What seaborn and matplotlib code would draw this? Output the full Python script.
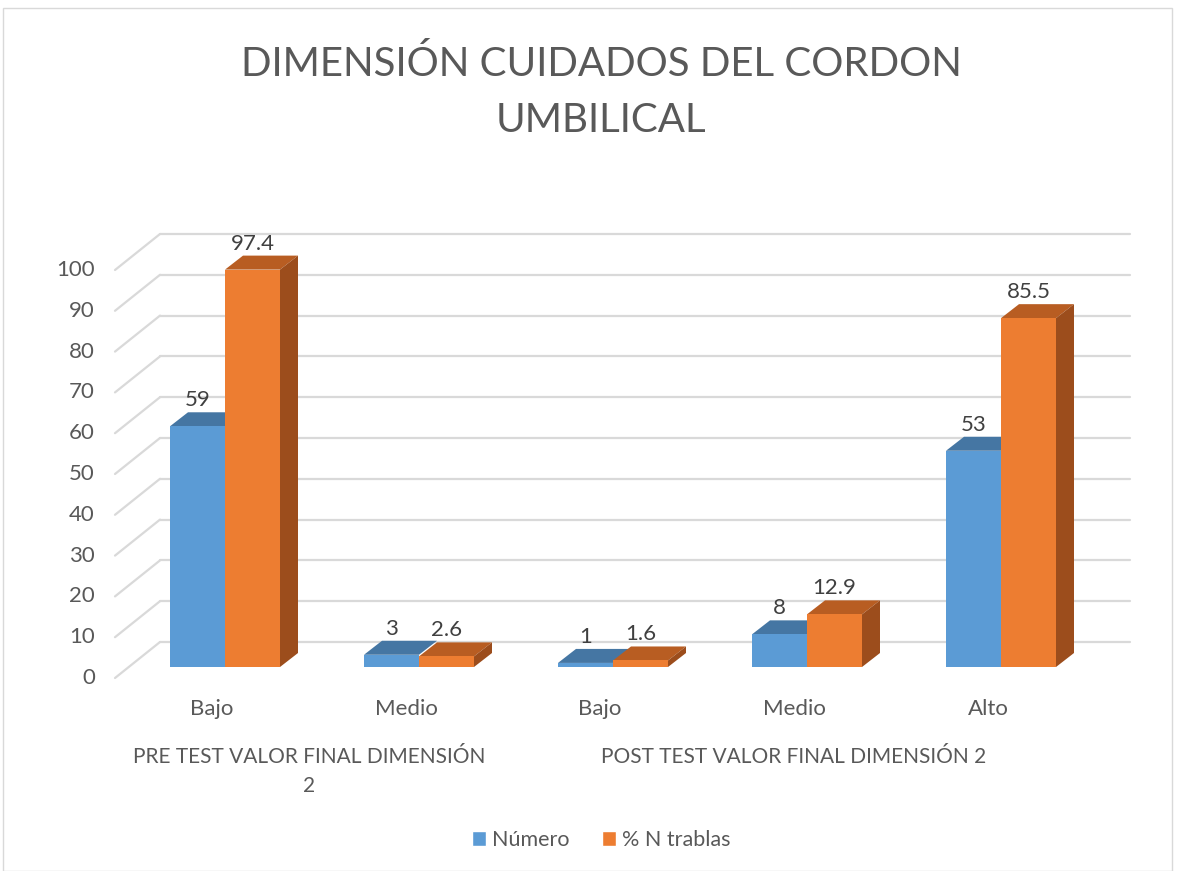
import matplotlib
matplotlib.use("Agg")
from matplotlib import pyplot as plt
from matplotlib.patches import Polygon, Patch, Rectangle
from matplotlib.transforms import offset_copy
import pandas as pd
import seaborn as sns

# data
categories = ["Bajo", "Medio", "Bajo", "Medio", "Alto"]
groups = ["PRE TEST VALOR FINAL DIMENSIÓN\n2", "POST TEST VALOR FINAL DIMENSIÓN 2"]
group_members = [[0, 1], [2, 3, 4]]
numero = [59, 3, 1, 8, 53]
pct_n_trablas = [97.4, 2.6, 1.6, 12.9, 85.5]
series = ["Número", "% N trablas"]
yticks = list(range(0, 101, 10))

BLUE, ORANGE = "#5B9BD5", "#ED7D31"
BLUE_TOP, ORANGE_TOP, ORANGE_SIDE = "#4576A3", "#B85D22", "#9C4D1C"
GRID = "#D9D9D9"
TEXT = "#595959"

sns.set_style("white")
plt.rcParams["font.family"] = ["Lato", "DejaVu Sans"]

keys = [f"{i}-{c}" for i, c in enumerate(categories)]
df = pd.DataFrame({
    "key": keys * 2,
    "valor": numero + pct_n_trablas,
    "serie": [series[0]] * len(keys) + [series[1]] * len(keys),
})

W, H = 1179, 871
fig = plt.figure(figsize=(W / 100, H / 100), dpi=100)
ax = fig.add_axes([128 / W, 204 / H, 970 / W, 408 / H])
sns.barplot(data=df, x="key", y="valor", hue="serie", order=keys,
            hue_order=series, palette=[BLUE, ORANGE], saturation=1,
            width=0.567, legend=False, ax=ax, zorder=3,
            linewidth=0, edgecolor="none")
ax.set_xlim(-0.5, len(keys) - 0.5)
ax.set_ylim(0, 100)
ax.set_axis_off()

# pixel -> data scale
pxx = ax.bbox.width / len(keys)
pxy = ax.bbox.height / 100.0

back = offset_copy(ax.transData, fig=fig, x=32, y=25, units="dots")
front_dx, front_dy = -13 / pxx, -11 / pxy
back_dx, back_dy = 32 / pxx, 25 / pxy

# back wall gridlines + diagonal side-wall lines, with tick labels on front edge
for v in yticks:
    ax.plot([-0.5, len(keys) - 0.5], [v, v], transform=back, color=GRID,
            lw=1.6, clip_on=False, zorder=0)
    ax.plot([-0.5 + front_dx, -0.5 + back_dx], [v + front_dy, v + back_dy],
            color=GRID, lw=1.6, clip_on=False, zorder=0)
    ax.text(-0.5 + front_dx - 20 / pxx, v + front_dy, str(v), ha="right",
            va="center", fontsize=16, color=TEXT)

# 3d faces
ddx, ddy = 18 / pxx, 14 / pxy
for cont, top_c, side_c in zip(ax.containers, [BLUE_TOP, ORANGE_TOP], [None, ORANGE_SIDE]):
    for bar in cont:
        x0, w, h = bar.get_x(), bar.get_width(), bar.get_height()
        x1 = x0 + w
        top = Polygon([(x0, h), (x1, h), (x1 + ddx, h + ddy), (x0 + ddx, h + ddy)],
                      closed=True, fc=top_c, ec="none", clip_on=False, zorder=2)
        ax.add_patch(top)
        if side_c:
            side = Polygon([(x1, 0), (x1, h), (x1 + ddx, h + ddy), (x1 + ddx, ddy)],
                           closed=True, fc=side_c, ec="none", clip_on=False, zorder=2)
            ax.add_patch(side)
        ax.text(x0 + w / 2, h + ddy + 2 / pxy, f"{h:g}", ha="center", va="bottom",
                fontsize=16, color="#404040", zorder=5)

# category labels
for i, c in enumerate(categories):
    ax.text(i + front_dx, -42 / pxy, c, ha="center", va="center",
            fontsize=16, color=TEXT)
for g, members in zip(groups, group_members):
    xc = (members[0] + members[-1]) / 2 + front_dx
    ax.text(xc, -80 / pxy, g, ha="center", va="top", fontsize=15,
            color=TEXT, linespacing=1.55)

fig.text(0.51, 1 - 92 / H, "DIMENSIÓN CUIDADOS DEL CORDON\nUMBILICAL",
         ha="center", va="center", fontsize=29, color=TEXT, linespacing=1.65)

handles = [Patch(fc=BLUE), Patch(fc=ORANGE)]
leg = fig.legend(handles, series, loc="center", bbox_to_anchor=(0.51, 1 - 840 / H),
                 ncol=2, frameon=False, fontsize=15.5, handlelength=0.65,
                 handleheight=0.65, handletextpad=0.3, columnspacing=1.5)
for t in leg.get_texts():
    t.set_color(TEXT)

fig.patches.append(Rectangle((3 / W, 0), 1169 / W, 1 - 8 / H, transform=fig.transFigure,
                             fill=False, ec=GRID, lw=1))

fig.savefig("out.png", dpi=100)
